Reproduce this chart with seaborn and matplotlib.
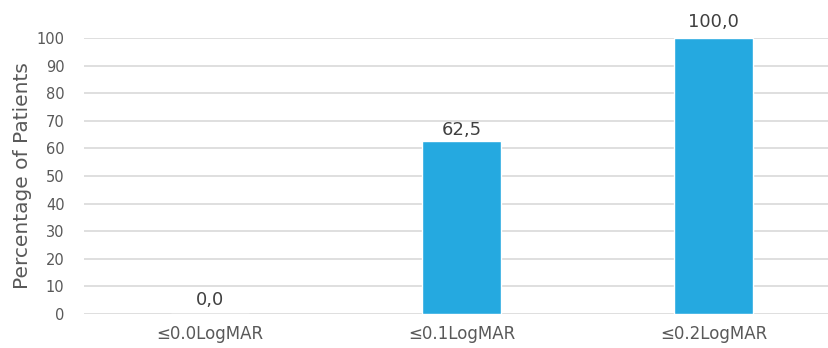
import matplotlib
matplotlib.use("Agg")
import matplotlib.pyplot as plt
import seaborn as sns
import pandas as pd

categories = ["≤0.0LogMAR", "≤0.1LogMAR", "≤0.2LogMAR"]
values = [0.0, 62.5, 100.0]
value_labels = ["0,0", "62,5", "100,0"]
y_ticks = [0, 10, 20, 30, 40, 50, 60, 70, 80, 90, 100]

sns.set_theme(style="white")
plt.rcParams['font.family'] = ['DejaVu Sans']
plt.rcParams['font.sans-serif'] = ['DejaVu Sans']
FONT = "DejaVu Sans"

df = pd.DataFrame({"cat": categories, "val": values})

fig = plt.figure(figsize=(8.29, 3.48), dpi=100)
W, H = 829, 348
left, right = 84, 839.5
bottom_px, top_px = 314, 38
ax = fig.add_axes([left / W, (H - bottom_px) / H, (right - left) / W, (bottom_px - top_px) / H])

sns.barplot(data=df, x="cat", y="val", color="#25a9e0", width=0.313, ax=ax, saturation=1)
ax.set_ylim(0, 100)
ax.set_xlim(-0.5, 2.5)
ax.set_yticks(y_ticks)
ax.yaxis.grid(True, color="#d9d9d9", linewidth=1.2)
ax.set_axisbelow(True)
for s in ax.spines.values():
    s.set_visible(False)
ax.tick_params(axis="y", length=0, pad=14, labelsize=10.5, labelcolor="#595959")
ax.tick_params(axis="x", length=0, pad=8, labelsize=12, labelcolor="#595959")
for t in ax.get_xticklabels() + ax.get_yticklabels():
    t.set_fontfamily(FONT)
ax.set_xlabel("")
ax.set_ylabel("Percentage of Patients", fontsize=14.5, color="#595959", labelpad=3, fontfamily=FONT)
label_offsets = [3.5, 1.5, 5]
for i, (v, lab) in enumerate(zip(values, value_labels)):
    ax.annotate(lab, (i, v), xytext=(0, label_offsets[i]), textcoords="offset points",
                ha="center", va="bottom", fontsize=13, color="#404040",
                fontfamily=FONT, annotation_clip=False)

fig.savefig("out.png", dpi=100)
